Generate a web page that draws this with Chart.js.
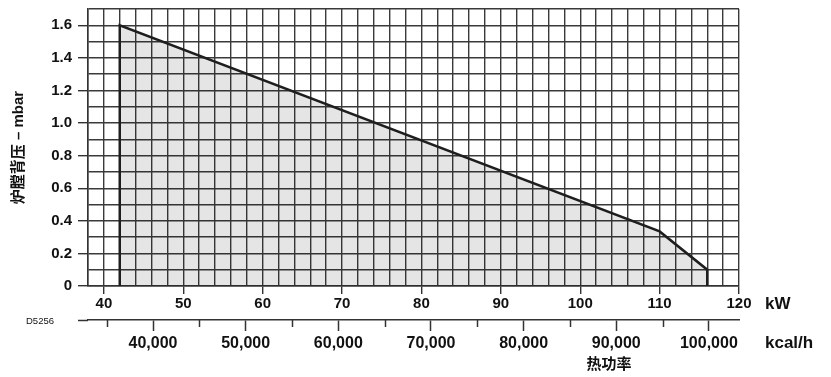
<!DOCTYPE html>
<html><head><meta charset="utf-8">
<script src="https://cdn.jsdelivr.net/npm/chart.js@4/dist/chart.umd.min.js"></script>
<style>html,body{margin:0;padding:0;background:#fff}#wrap{width:831px;height:377px;position:relative}</style>
</head><body><div id="wrap"><canvas id="c" width="831" height="377"></canvas></div>
<script>
// ---- data ----
const heatKW = [42, 42, 110, 116, 116];
const backPressure = [0, 1.6, 0.335, 0.1, 0];
const kwRange = [38, 120];
const kwStep = 2;
const kwLabelTicks = [40, 50, 60, 70, 80, 90, 100, 110, 120];
const pressureRange = [0, 1.7];
const pressureStep = 0.1;
const pressureLabelTicks = [0, 0.2, 0.4, 0.6, 0.8, 1.0, 1.2, 1.4, 1.6];
const kcalRange = [32980, 103250];
const kcalLabelTicks = [40000, 50000, 60000, 70000, 80000, 90000, 100000];
const kcalMinorTicks = [35000, 45000, 55000, 65000, 75000, 85000, 95000];
const yTitle = '炉膛背压 – mbar';
const xTitle = '热功率';
const unitKW = 'kW';
const unitKcal = 'kcal/h';
const drawingId = 'D5256';

const FONT = 'Liberation Sans, Arial, "Noto Sans CJK SC", sans-serif';
const INK = '#111';
const GRID = '#3a3a3a';

const isKwLabel = v => kwLabelTicks.some(t => Math.abs(t - v) < 1e-6);
const isPLabel = v => pressureLabelTicks.some(t => Math.abs(t - v) < 1e-6);

const extras = {
  id: 'extras',
  afterDraw(chart) {
    const ctx = chart.ctx, ca = chart.chartArea, x2 = chart.scales.x2, xs = chart.scales.x;
    ctx.save();
    ctx.strokeStyle = '#333';
    ctx.lineWidth = 1.5;
    ctx.beginPath();
    ctx.moveTo(ca.left - 10, Math.round(x2.top) + 0.5);
    ctx.lineTo(ca.left, Math.round(x2.top) + 0.5);
    ctx.stroke();
    kcalMinorTicks.forEach(v => {
      const px = Math.round(x2.getPixelForValue(v)) + 0.5;
      ctx.beginPath();
      ctx.moveTo(px, x2.top);
      ctx.lineTo(px, x2.top + 7);
      ctx.stroke();
    });
    ctx.fillStyle = INK;
    ctx.textBaseline = 'middle';
    ctx.textAlign = 'left';
    ctx.font = 'bold 17px ' + FONT;
    ctx.fillText(unitKW, ca.right + 26, xs.top + 18);
    ctx.fillText(unitKcal, ca.right + 26, x2.top + 23);
    ctx.textAlign = 'center';
    ctx.font = 'bold 15px ' + FONT;
    ctx.fillText(xTitle, ca.right - 130, x2.top + 45);
    ctx.font = '9.5px ' + FONT;
    ctx.fillText(drawingId, 40, x2.top + 1);
    ctx.restore();
  }
};

new Chart(document.getElementById('c'), {
  type: 'line',
  data: {
    datasets: [{
      data: heatKW.map((x, i) => ({x, y: backPressure[i]})),
      borderColor: '#1e1e1e',
      borderWidth: 2.5,
      backgroundColor: 'rgba(0,0,0,0.10)',
      fill: 'origin',
      pointRadius: 0,
      tension: 0
    }]
  },
  options: {
    responsive: false,
    devicePixelRatio: 1,
    animation: false,
    layout: {padding: {top: 9, right: 92, left: 0, bottom: 0}},
    plugins: {legend: {display: false}, tooltip: {enabled: false}},
    scales: {
      y: {
        type: 'linear',
        min: pressureRange[0], max: pressureRange[1],
        afterFit: s => { s.width = 88; s.paddingTop = 0; s.paddingBottom = 0; },
        ticks: {
          stepSize: pressureStep,
          autoSkip: false,
          padding: 6,
          color: INK,
          font: {family: FONT, size: 15, weight: 'bold'},
          callback: v => isPLabel(v) ? (Math.abs(v) < 1e-9 ? '0' : v.toFixed(1)) : ''
        },
        grid: {
          color: GRID, lineWidth: 1.4, tickLength: 10,
          tickColor: c => (c.tick && isPLabel(c.tick.value)) ? '#333' : 'rgba(0,0,0,0)'
        },
        border: {color: '#333', width: 1.5},
        title: {
          display: true, text: yTitle, color: INK,
          font: {family: FONT, size: 15, weight: 'bold'},
          padding: {top: 10, bottom: 0}
        }
      },
      x: {
        type: 'linear',
        position: 'bottom',
        min: kwRange[0], max: kwRange[1],
        afterFit: s => { s.height = 34; },
        ticks: {
          stepSize: kwStep,
          padding: 1,
          maxRotation: 0,
          autoSkip: false,
          color: INK,
          font: {family: FONT, size: 15, weight: 'bold'},
          callback: v => isKwLabel(v) ? String(v) : ''
        },
        grid: {
          color: GRID, lineWidth: 1.4, tickLength: 8,
          tickColor: c => (c.tick && isKwLabel(c.tick.value)) ? '#333' : 'rgba(0,0,0,0)'
        },
        border: {color: '#333', width: 1.5}
      },
      x2: {
        type: 'linear',
        position: 'bottom',
        min: kcalRange[0], max: kcalRange[1],
        afterFit: s => { s.height = 57; },
        afterBuildTicks: s => { s.ticks = kcalLabelTicks.map(v => ({value: v})); },
        ticks: {
          padding: 3,
          maxRotation: 0,
          autoSkip: false,
          color: INK,
          font: {family: FONT, size: 16, weight: 'bold'},
          callback: v => v.toLocaleString('en-US')
        },
        grid: {drawOnChartArea: false, tickLength: 11, tickColor: '#333', tickWidth: 1.5},
        border: {color: '#333', width: 1.5}
      }
    }
  },
  plugins: [extras]
});
</script>
</body></html>
